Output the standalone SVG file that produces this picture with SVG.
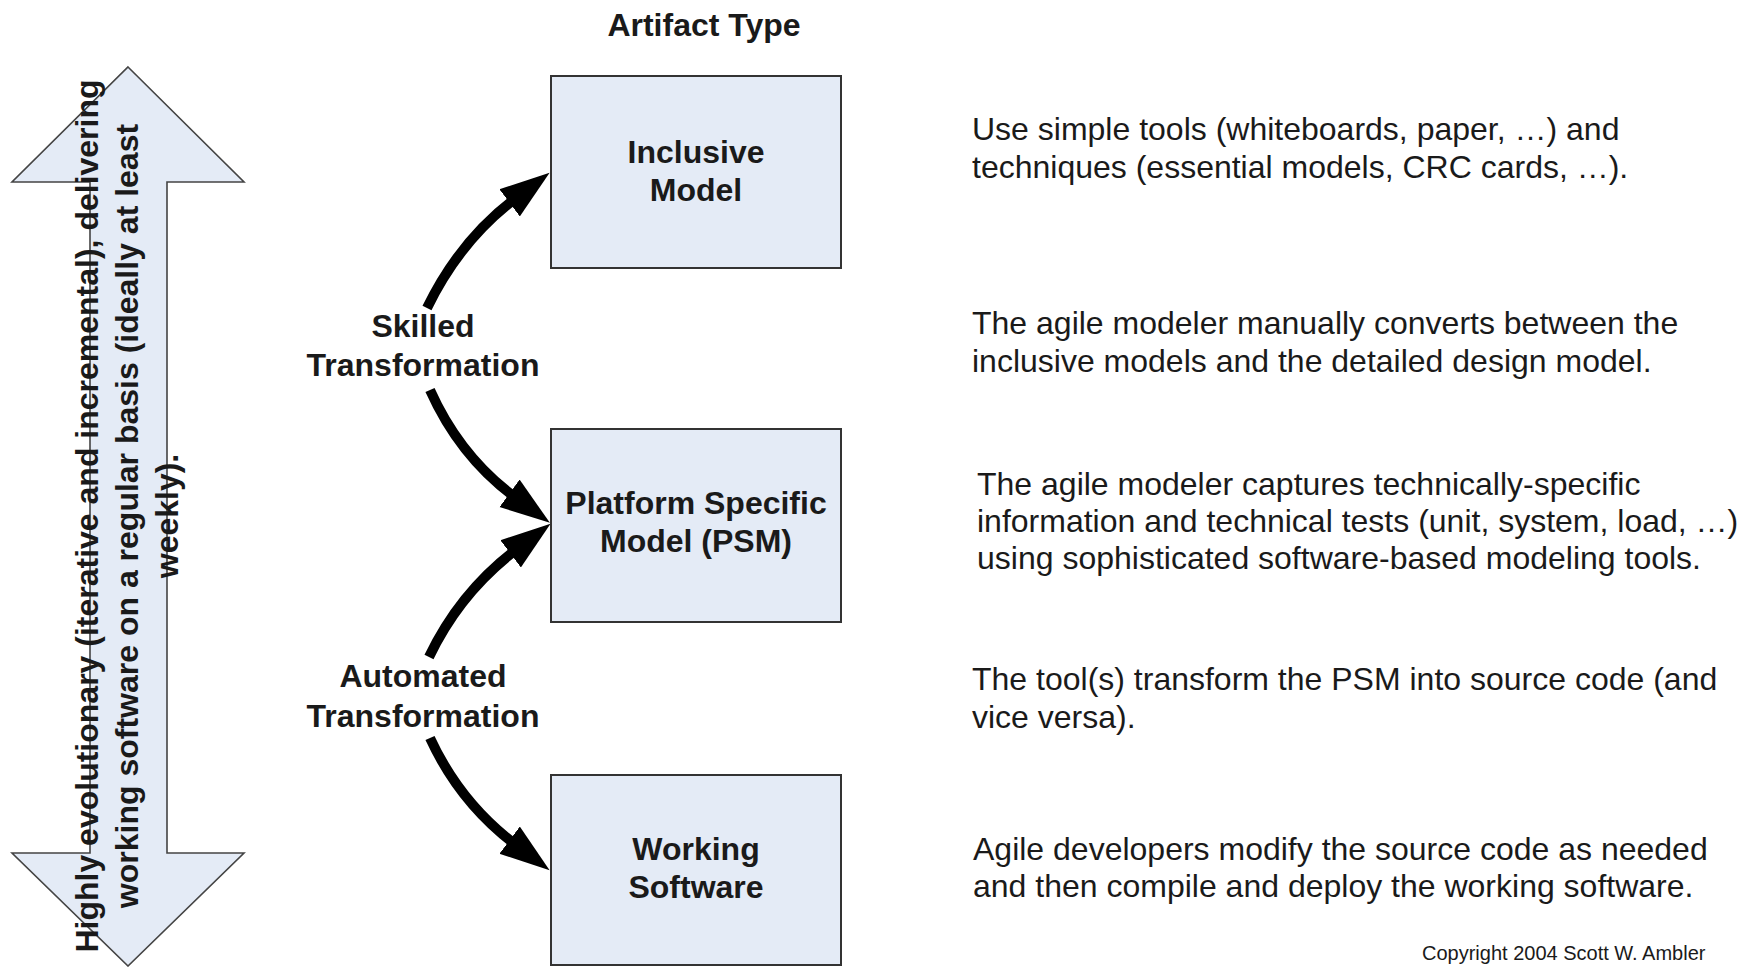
<svg xmlns="http://www.w3.org/2000/svg" width="1747" height="967" viewBox="0 0 1747 967">
<style>
.bg{fill:#ffffff}
.box{fill:#e4ebf6;stroke:#333;stroke-width:2}
.big{fill:#e4ebf6;stroke:#444;stroke-width:1.6}
.b{font-family:"Liberation Sans",Arial,sans-serif;font-weight:bold;font-size:32px;fill:#1a1a1a}
.r{font-family:"Liberation Sans",Arial,sans-serif;font-size:32px;fill:#1a1a1a}
.c{font-family:"Liberation Sans",Arial,sans-serif;font-size:20px;fill:#1a1a1a}
.conn{fill:none;stroke:#000;stroke-width:10}
</style>
<defs>
<marker id="ah" markerUnits="userSpaceOnUse" markerWidth="60" markerHeight="50" viewBox="0 -25 60 50" refX="8" refY="0" orient="auto">
<path d="M0,-17 L50,0 L0,17 Z" fill="#000"/>
</marker>
</defs>
<rect class="bg" x="0" y="0" width="1747" height="967"/>
<text class="b" x="704" y="36" font-size="30" text-anchor="middle">Artifact Type</text>

<g id="lifecycle-arrow">
<path class="big" d="M128,67 L244,182 L167,182 L167,853 L244,853 L128,966 L12,853 L90,853 L90,182 L12,182 Z"/>
<text class="b" text-anchor="middle" transform="translate(98,516) rotate(-90)">Highly evolutionary (iterative and incremental), delivering</text>
<text class="b" text-anchor="middle" transform="translate(138,516) rotate(-90)">working software on a regular basis (ideally at least</text>
<text class="b" text-anchor="middle" transform="translate(178,516) rotate(-90)">weekly).</text>
</g>

<g id="connectors">
<path class="conn" d="M427,308 Q460,240 516,198" marker-end="url(#ah)"/>
<path class="conn" d="M430,390 Q460,457 516,498" marker-end="url(#ah)"/>
<path class="conn" d="M429,657 Q460,592 517,549" marker-end="url(#ah)"/>
<path class="conn" d="M430,738 Q460,803 516,845" marker-end="url(#ah)"/>
<text class="b" x="423" y="337" text-anchor="middle">Skilled</text>
<text class="b" x="423" y="376" text-anchor="middle">Transformation</text>
<text class="b" x="423" y="687" text-anchor="middle">Automated</text>
<text class="b" x="423" y="727" text-anchor="middle">Transformation</text>
</g>

<g id="inclusive-model">
<rect class="box" x="551" y="76" width="290" height="192"/>
<text class="b" x="696" y="163" text-anchor="middle">Inclusive</text>
<text class="b" x="696" y="201" text-anchor="middle">Model</text>
</g>

<g id="psm">
<rect class="box" x="551" y="429" width="290" height="193"/>
<text class="b" x="696" y="514" text-anchor="middle">Platform Specific</text>
<text class="b" x="696" y="552" text-anchor="middle">Model (PSM)</text>
</g>

<g id="working-software">
<rect class="box" x="551" y="775" width="290" height="190"/>
<text class="b" x="696" y="860" text-anchor="middle">Working</text>
<text class="b" x="696" y="898" text-anchor="middle">Software</text>
</g>

<g id="descriptions">
<text class="r" x="972" y="140">Use simple tools (whiteboards, paper, …) and</text>
<text class="r" x="972" y="178">techniques (essential models, CRC cards, …).</text>
<text class="r" x="972" y="334">The agile modeler manually converts between the</text>
<text class="r" x="972" y="372">inclusive models and the detailed design model.</text>
<text class="r" x="977" y="495">The agile modeler captures technically-specific</text>
<text class="r" x="977" y="532">information and technical tests (unit, system, load, …)</text>
<text class="r" x="977" y="569">using sophisticated software-based modeling tools.</text>
<text class="r" x="972" y="690">The tool(s) transform the PSM into source code (and</text>
<text class="r" x="972" y="728">vice versa).</text>
<text class="r" x="973" y="860">Agile developers modify the source code as needed</text>
<text class="r" x="973" y="897">and then compile and deploy the working software.</text>
<text class="c" x="1422" y="960">Copyright 2004 Scott W. Ambler</text>
</g>
</svg>
